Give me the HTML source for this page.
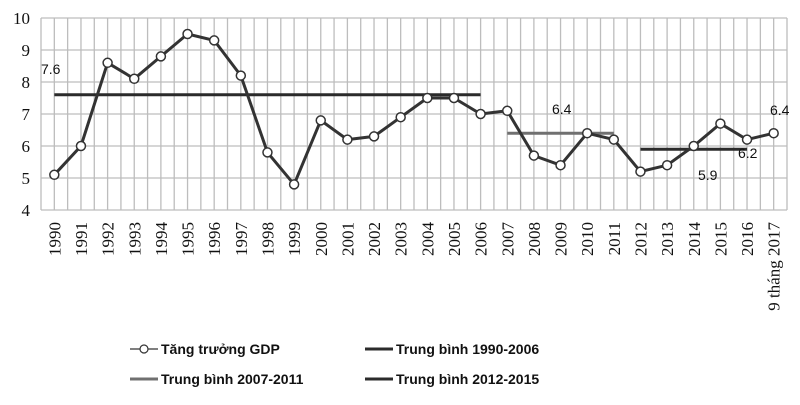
<!DOCTYPE html>
<html><head><meta charset="utf-8"><style>
body{margin:0;background:#fff;width:800px;height:405px;overflow:hidden}
svg{display:block}
.tick{font-family:"Liberation Serif",serif;font-size:17px;fill:#111}
.lbl{font-family:"Liberation Sans",sans-serif;font-size:14px;fill:#111}
.leg{font-family:"Liberation Sans",sans-serif;font-size:14px;font-weight:bold;fill:#111}
</style></head><body>
<svg id="chart" width="800" height="405"></svg>
<script>
const categories=["1990","1991","1992","1993","1994","1995","1996","1997","1998","1999","2000","2001","2002","2003","2004","2005","2006","2007","2008","2009","2010","2011","2012","2013","2014","2015","2016","9 tháng 2017"];
const gdpValues=[5.1,6.0,8.6,8.1,8.8,9.5,9.3,8.2,5.8,4.8,6.8,6.2,6.3,6.9,7.5,7.5,7.0,7.1,5.7,5.4,6.4,6.2,5.2,5.4,6.0,6.7,6.2,6.4];
const yTicks=[4,5,6,7,8,9,10];
const avg1=7.6, avg2=6.4, avg3=5.9;
const svg=document.getElementById('chart');
const NS='http://www.w3.org/2000/svg';
const X0=41,X1=787,Y0=210,Y1=18,YMIN=4,YMAX=10;
const band=(X1-X0)/categories.length;
function xs(i){return X0+band*(i+0.5);}
function ys(v){return Y0-(v-YMIN)/(YMAX-YMIN)*(Y0-Y1);}
function mk(t,a,p){const e=document.createElementNS(NS,t);for(const k in a)e.setAttribute(k,a[k]);(p||svg).appendChild(e);return e;}
const grid=mk('g',{});


for(let i=0;i<=categories.length*2;i++){const x=X0+band*i/2;mk('line',{x1:x,x2:x,y1:Y1,y2:Y0,stroke:'#bdbdbd','stroke-width':1.3},grid);}
yTicks.forEach(v=>{mk('line',{x1:X0,x2:X1,y1:ys(v),y2:ys(v),stroke:'#bdbdbd','stroke-width':1.3},grid);
const t=mk('text',{x:30,y:ys(v)+6,'text-anchor':'end',class:'tick'});t.textContent=v;

});
categories.forEach((c,i)=>{const x=xs(i)+6;const t=mk('text',{x:x,y:222,'text-anchor':'end',class:'tick',transform:`rotate(-90 ${x} 222)`});t.textContent=c;

});
function avgLine(v,i0,i1,col,name){const l=mk('line',{x1:xs(i0),x2:xs(i1),y1:ys(v),y2:ys(v),stroke:col,'stroke-width':3});

}
avgLine(avg1,0,16,'#2b2b2b','average-1990-2006');
avgLine(avg2,17,21,'#707070','average-2007-2011');
avgLine(avg3,22,26,'#2b2b2b','average-2012-2015');
const pts=gdpValues.map((v,i)=>xs(i)+','+ys(v)).join(' ');
const pl=mk('polyline',{points:pts,fill:'none',stroke:'#333','stroke-width':3,'stroke-linejoin':'round'});


gdpValues.forEach((v,i)=>{const c=mk('circle',{cx:xs(i),cy:ys(v),r:4.5,fill:'#fff',stroke:'#333','stroke-width':1.5});

});
function lab(x,y,s){const t=mk('text',{x:x,y:y,class:'lbl'});t.textContent=s;

}
lab(41,74,'7.6');lab(552,114,'6.4');lab(770,115,'6.4');lab(738,158,'6.2');lab(698,180,'5.9');
function leg(x,y,col,s,marker){const g=mk('g',{});


mk('line',{x1:x,x2:x+28,y1:y,y2:y,stroke:col,'stroke-width':marker?1.2:3},g);
if(marker)mk('circle',{cx:x+14,cy:y,r:4,fill:'#fff',stroke:'#333','stroke-width':1.2},g);
const t=mk('text',{x:x+31,y:y+5,class:'leg'},g);t.textContent=s;}
leg(130,349,'#333','Tăng trưởng GDP',true);
leg(365,349,'#2b2b2b','Trung bình 1990-2006',false);
leg(130,379,'#707070','Trung bình 2007-2011',false);
leg(365,379,'#2b2b2b','Trung bình 2012-2015',false);
</script>
</body></html>
